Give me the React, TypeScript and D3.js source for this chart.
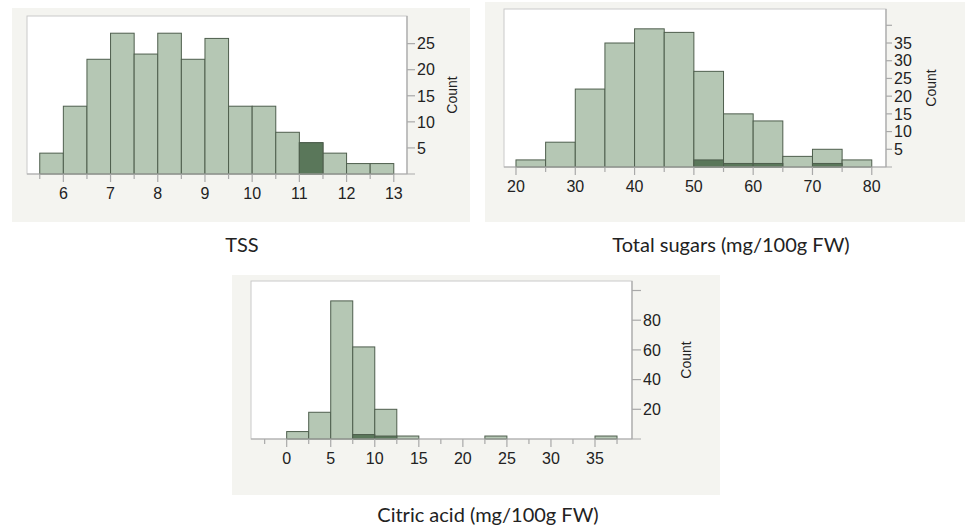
import React from 'react';
import * as d3 from 'd3';

// TSS histogram (bin width 0.5)
const tssBinStarts = [5.5, 6, 6.5, 7, 7.5, 8, 8.5, 9, 9.5, 10, 10.5, 11, 11.5, 12, 12.5];
const tssCounts = [4, 13, 22, 27, 23, 27, 22, 26, 13, 13, 8, 6, 4, 2, 2];
const tssHighlight = [0, 0, 0, 0, 0, 0, 0, 0, 0, 0, 0, 6, 0, 0, 0];
const tssMajorTicks = [6, 7, 8, 9, 10, 11, 12, 13];
const tssMinorTicks = [5.5, 6.5, 7.5, 8.5, 9.5, 10.5, 11.5, 12.5];
const tssCountTicks = [5, 10, 15, 20, 25];
const tssCountLabels = [5, 10, 15, 20, 25];

// Total sugars histogram (bin width 5)
const sugarsBinStarts = [20, 25, 30, 35, 40, 45, 50, 55, 60, 65, 70, 75];
const sugarsCounts = [2, 7, 22, 35, 39, 38, 27, 15, 13, 3, 5, 2];
const sugarsHighlight = [0, 0, 0, 0, 0, 0, 2, 1, 1, 0, 1, 0];
const sugarsMajorTicks = [20, 30, 40, 50, 60, 70, 80];
const sugarsMinorTicks = [25, 35, 45, 55, 65, 75];
const sugarsCountTicks = [5, 10, 15, 20, 25, 30, 35, 40];
const sugarsCountLabels = [5, 10, 15, 20, 25, 30, 35];

// Citric acid histogram (bin width 2.5)
const citricBinStarts = [0, 2.5, 5, 7.5, 10, 12.5, 22.5, 35];
const citricCounts = [5, 18, 93, 62, 20, 2, 2, 2];
const citricHighlight = [0, 0, 0, 3, 2, 0, 0, 0];
const citricMajorTicks = [0, 5, 10, 15, 20, 25, 30, 35];
const citricMinorTicks = [-2.5, 2.5, 7.5, 12.5, 17.5, 22.5, 27.5, 32.5, 37.5];
const citricCountTicks = [20, 40, 60, 80, 100];
const citricCountLabels = [20, 40, 60, 80];

const FILL = '#b5c7b4';
const FILL_DARK = '#5a775a';
const STROKE = '#4e5e4d';
const AXIS = '#a9a9a9';
const BG = '#f4f4f0';
const TICK_FONT = '"Liberation Sans", Arial, Helvetica, sans-serif';
const TITLE_FONT = 'Lato, "Open Sans", sans-serif';

type PanelProps = {
  bg: [number, number, number, number];
  plot: { left: number; top: number; right: number; bottom: number };
  xDomain: [number, number];
  yMax: number;
  binStarts: number[];
  binWidth: number;
  counts: number[];
  highlight: number[];
  majorTicks: number[];
  minorTicks: number[];
  countTicks: number[];
  countLabels: number[];
  yTickLen: number;
  countOffset: number;
  title: string;
  titlePos: [number, number];
};

function Histogram(p: PanelProps) {
  const { left, top, right, bottom } = p.plot;
  const x = d3.scaleLinear().domain(p.xDomain).range([left, right]);
  const y = d3.scaleLinear().domain([0, p.yMax]).range([bottom, top]);
  const countMid = (top + bottom) / 2;

  return (
    <g>
      <rect x={p.bg[0]} y={p.bg[1]} width={p.bg[2] - p.bg[0]} height={p.bg[3] - p.bg[1]} fill={BG} />
      <rect x={left} y={top} width={right - left} height={bottom - top} fill="#fff" stroke="#c9c9c9" strokeWidth={1} />

      {/* bars */}
      {p.counts.map((c, i) => (
        <rect
          key={'b' + i}
          x={x(p.binStarts[i])}
          y={y(c)}
          width={x(p.binStarts[i] + p.binWidth) - x(p.binStarts[i])}
          height={y(0) - y(c)}
          fill={FILL}
          stroke={STROKE}
          strokeWidth={1}
        />
      ))}
      {p.highlight.map((c, i) =>
        c > 0 ? (
          <rect
            key={'h' + i}
            x={x(p.binStarts[i])}
            y={y(c)}
            width={x(p.binStarts[i] + p.binWidth) - x(p.binStarts[i])}
            height={y(0) - y(c)}
            fill={FILL_DARK}
            stroke={STROKE}
            strokeWidth={1}
          />
        ) : null
      )}

      {/* bottom axis */}
      <line x1={left} x2={right + p.yTickLen} y1={bottom} y2={bottom} stroke={AXIS} strokeWidth={1.2} />
      {p.majorTicks.map((t) => (
        <g key={'mt' + t}>
          <line x1={x(t)} x2={x(t)} y1={bottom} y2={bottom + 8} stroke={AXIS} strokeWidth={1.2} />
          <text x={x(t)} y={bottom + 25} textAnchor="middle" fontFamily={TICK_FONT} fontSize={16} fill="#222">
            {t}
          </text>
        </g>
      ))}
      {p.minorTicks.map((t) => (
        <line key={'nt' + t} x1={x(t)} x2={x(t)} y1={bottom} y2={bottom + 5} stroke={AXIS} strokeWidth={1.2} />
      ))}

      {/* right count axis */}
      <line x1={right} x2={right} y1={top} y2={bottom} stroke={AXIS} strokeWidth={1.2} />
      {p.countTicks.map((t) => (
        <line key={'ct' + t} x1={right} x2={right + p.yTickLen} y1={y(t)} y2={y(t)} stroke={AXIS} strokeWidth={1.2} />
      ))}
      {p.countLabels.map((t) => (
        <text
          key={'cl' + t}
          x={right + p.yTickLen + 2}
          y={y(t)}
          dy="0.36em"
          fontFamily={TICK_FONT}
          fontSize={16}
          fill="#222"
        >
          {t}
        </text>
      ))}
      <text
        transform={`translate(${right + p.countOffset},${countMid}) rotate(-90)`}
        textAnchor="middle"
        fontFamily={TICK_FONT}
        fontSize={14}
        fill="#222"
      >
        Count
      </text>

      <text x={p.titlePos[0]} y={p.titlePos[1]} textAnchor="middle" fontFamily={TITLE_FONT} fontSize={20} fill="#222">
        {p.title}
      </text>
    </g>
  );
}

export default function App() {
  return (
    <svg width={968} height={530} style={{ position: 'absolute', left: 0, top: 0, background: '#fff' }}>
      <Histogram
        bg={[12, 8, 470, 222]}
        plot={{ left: 27, top: 16, right: 407, bottom: 174 }}
        xDomain={[5.23, 13.28]}
        yMax={30.3}
        binStarts={tssBinStarts}
        binWidth={0.5}
        counts={tssCounts}
        highlight={tssHighlight}
        majorTicks={tssMajorTicks}
        minorTicks={tssMinorTicks}
        countTicks={tssCountTicks}
        countLabels={tssCountLabels}
        yTickLen={8}
        countOffset={50}
        title="TSS"
        titlePos={[242, 252]}
      />
      <Histogram
        bg={[485, 2, 965, 222]}
        plot={{ left: 504, top: 9, right: 886, bottom: 167 }}
        xDomain={[17.98, 82.4]}
        yMax={44.6}
        binStarts={sugarsBinStarts}
        binWidth={5}
        counts={sugarsCounts}
        highlight={sugarsHighlight}
        majorTicks={sugarsMajorTicks}
        minorTicks={sugarsMinorTicks}
        countTicks={sugarsCountTicks}
        countLabels={sugarsCountLabels}
        yTickLen={6}
        countOffset={50}
        title="Total sugars (mg/100g FW)"
        titlePos={[731, 252]}
      />
      <Histogram
        bg={[232, 275, 720, 495]}
        plot={{ left: 251, top: 281, right: 632, bottom: 439 }}
        xDomain={[-4.05, 39.2]}
        yMax={106.4}
        binStarts={citricBinStarts}
        binWidth={2.5}
        counts={citricCounts}
        highlight={citricHighlight}
        majorTicks={citricMajorTicks}
        minorTicks={citricMinorTicks}
        countTicks={citricCountTicks}
        countLabels={citricCountLabels}
        yTickLen={9}
        countOffset={59}
        title="Citric acid (mg/100g FW)"
        titlePos={[488, 522]}
      />
    </svg>
  );
}
